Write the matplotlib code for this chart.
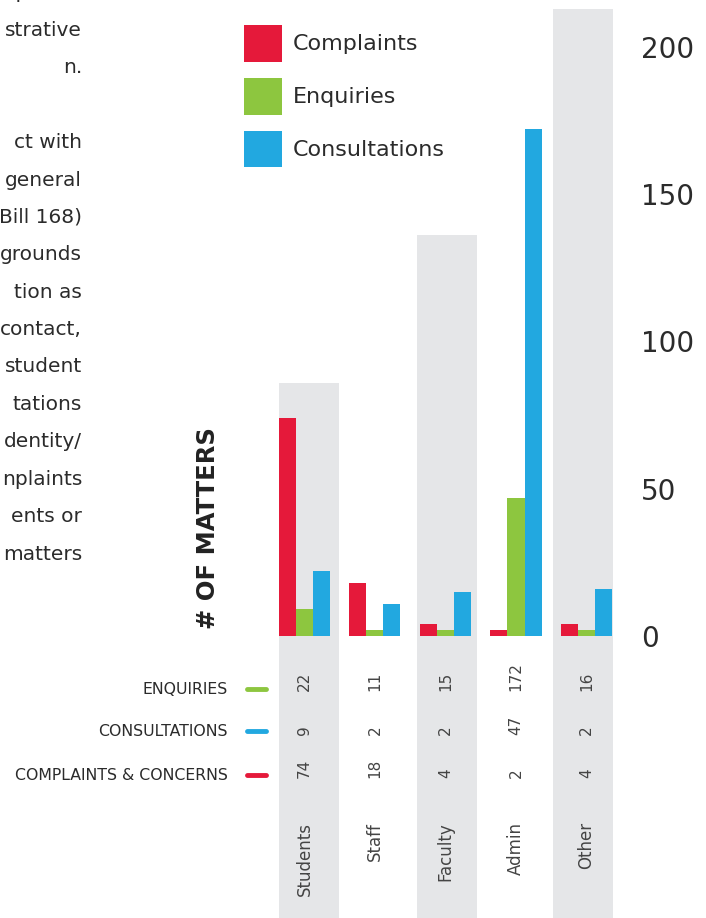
import matplotlib.pyplot as plt
from matplotlib.lines import Line2D

# data
groups = ['Students', 'Staff', 'Faculty', 'Admin', 'Other']
complaints = [74, 18, 4, 2, 4]
enquiries = [9, 2, 2, 47, 2]
consultations = [22, 11, 15, 172, 16]
yticks = [0, 50, 100, 150, 200]

# table rows, as printed under the chart
row_labels = ['ENQUIRIES', 'CONSULTATIONS', 'COMPLAINTS & CONCERNS']
row_values = [consultations, enquiries, complaints]

# grey backdrop columns (group index, top value)
shade_groups = [0, 2, 4]
shade_tops = [86, 136, 213]

para_lines = ['specific', 'strative', 'n.', '', 'ct with', 'general', 'Bill 168)',
              'grounds', 'tion as', 'contact,', 'student', 'tations', 'dentity/',
              'nplaints', 'ents or', 'matters']

RED = '#e5193a'
GREEN = '#8dc63f'
BLUE = '#22a8e0'
GREY = '#e5e6e8'
TXT = '#2b2b2b'

W, H = 706, 918
fig = plt.figure(figsize=(W / 100, H / 100), dpi=100)

# px helpers
def fx(px):
    return px / W

def fy(py):
    return 1 - py / H

step = 70.5       # px between groups
x0 = 304.5        # px centre of first group
base = 636        # px of zero line
ppu = 2.945       # px per unit

ax = fig.add_axes([0, 0, 630 / W, 1])
ax.set_xlim(-x0 / step, (630 - x0) / step)
ax.set_ylim((base - H) / ppu, base / ppu)
ylo = (base - H) / ppu

bw = 17 / step
shade_shift = {0: 0.064, 2: 0.021, 4: -0.05}
for g, top in zip(shade_groups, shade_tops):
    ax.bar(g + shade_shift[g], top - ylo, bottom=ylo, width=60 / step,
           color=GREY, zorder=0)

xs = list(range(len(groups)))
ax.bar([x - bw for x in xs], complaints, width=bw, color=RED, label='Complaints', zorder=2)
ax.bar(xs, enquiries, width=bw, color=GREEN, label='Enquiries', zorder=2)
ax.bar([x + bw for x in xs], consultations, width=bw, color=BLUE, label='Consultations', zorder=2)

for s in ax.spines.values():
    s.set_visible(False)
ax.set_xticks([])
ax.yaxis.tick_right()
ax.set_yticks(yticks)
ax.tick_params(axis='y', length=0, pad=8, labelsize=20, labelcolor=TXT)

# table under the bars
row_py = [691, 735, 778]
for vals, py in zip(row_values, row_py):
    for x, v in zip(xs, vals):
        ax.text(x, (base - py) / ppu, str(v), rotation=90, ha='center', va='bottom',
                fontsize=11, color='#444444')
for x, g in zip(xs, groups):
    ax.text(x, (base - 822) / ppu, g, rotation=90, ha='center', va='top',
            fontsize=12, color='#444444')

row_cols = [GREEN, BLUE, RED]
label_py = [689, 731, 775]
for lab, c, py in zip(row_labels, row_cols, label_py):
    fig.text(fx(228), fy(py), lab, ha='right', va='center', fontsize=11.3, color=TXT)
    fig.add_artist(Line2D([fx(247), fx(266)], [fy(py), fy(py)], color=c, lw=3.5,
                          solid_capstyle='round', transform=fig.transFigure))

# y label
fig.text(fx(208), fy(528), '# OF MATTERS', rotation=90, ha='center', va='center',
         fontsize=17.5, fontweight='bold', color='#222222')

# legend
ax.legend(loc='upper left', bbox_to_anchor=(fx(244), fy(25)), bbox_transform=fig.transFigure,
          frameon=False, fontsize=16, handlelength=1.71, handleheight=2.17,
          handletextpad=0.5, labelspacing=0.72, borderpad=0, borderaxespad=0,
          labelcolor=TXT)

# cut-off paragraph on the left
for i, line in enumerate(para_lines):
    if line:
        fig.text(fx(82), fy(-7 + 37.4 * i), line, ha='right', va='center',
                 fontsize=14.5, color=TXT)

fig.savefig('out.png', dpi=100)
